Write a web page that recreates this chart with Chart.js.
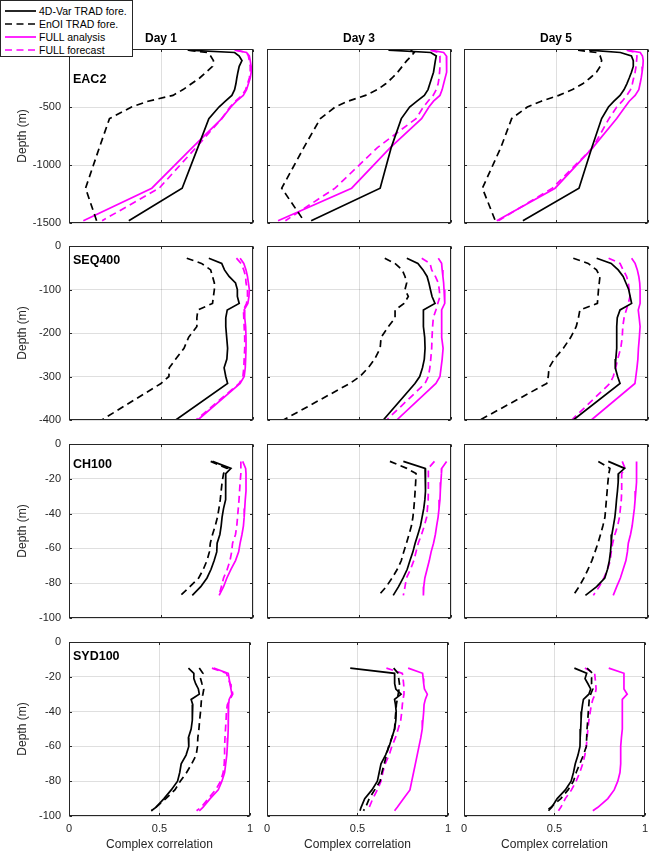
<!DOCTYPE html>
<html>
<head>
<meta charset="utf-8">
<script src="https://cdn.jsdelivr.net/npm/chart.js@4.4.1/dist/chart.umd.min.js"></script>
<style>
  body { margin: 0; background: #fff; width: 650px; height: 852px; position: relative; overflow: hidden;
         font-family: "Liberation Sans", Arial, sans-serif; }
  canvas { position: absolute; }
  #legend { position: absolute; left: 0; top: 0; width: 131px; height: 55px; background: #fff;
            border: 1px solid #262626; z-index: 5; }
  .item { position: absolute; left: 0; height: 13px; font-size: 10.5px; color: #000; line-height: 13px; white-space: nowrap; }
  .item svg { position: absolute; left: 4px; top: 3px; }
  .item span { position: absolute; left: 38px; top: 0; }
</style>
</head>
<body>
<div id="legend"></div>
<script>
// labels
const days = ['Day 1', 'Day 3', 'Day 5'];
const stations = ['EAC2', 'SEQ400', 'CH100', 'SYD100'];
const seriesNames = ['4D-Var TRAD fore.', 'EnOI TRAD fore.', 'FULL analysis', 'FULL forecast'];
const xTicks = [0, 0.5, 1];
const yMin = [-1500, -400, -100, -100];
const yStep = [500, 100, 20, 20];

// depth levels (m) of each mooring
const eac2Depth = [-10, -30, -60, -100, -150, -200, -250, -300, -350, -400, -450, -500, -600, -850, -1200, -1480];
const seq400Depth = [-28, -40, -55, -70, -85, -100, -116, -132, -147, -165, -185, -210, -235, -260, -280, -300, -316, -400];
const ch100Depth = [-10, -14, -17, -22, -27, -32, -37, -42, -47, -52, -57, -62, -67, -72, -77, -82, -87];
const syd100Depth = [-15, -18, -21, -24, -27, -30, -33, -36, -40, -45, -50, -55, -60, -65, -70, -75, -80, -85, -90, -95, -97];

// EAC2
const eac2_4dvar_d1 = [0.645, 0.90, 0.925, 0.94, 0.925, 0.918, 0.912, 0.907, 0.90, 0.885, 0.85, 0.815, 0.76, 0.70, 0.615, 0.325];
const eac2_enoi_d1 = [0.65, 0.75, 0.77, 0.785, 0.78, 0.745, 0.71, 0.665, 0.62, 0.565, 0.43, 0.34, 0.22, 0.165, 0.09, 0.15];
const eac2_fa_d1 = [0.90, 0.965, 0.98, 0.985, 0.99, 0.99, 0.985, 0.975, 0.965, 0.947, 0.91, 0.88, 0.83, 0.67, 0.45, 0.078];
const eac2_ff_d1 = [0.91, 0.965, 0.975, 0.98, 0.985, 0.985, 0.98, 0.97, 0.96, 0.94, 0.905, 0.875, 0.83, 0.69, 0.49, 0.18];
const eac2_4dvar_d3 = [0.66, 0.89, 0.92, 0.915, 0.91, 0.905, 0.895, 0.885, 0.875, 0.855, 0.815, 0.775, 0.73, 0.675, 0.615, 0.24];
const eac2_enoi_d3 = [0.78, 0.80, 0.785, 0.76, 0.735, 0.71, 0.68, 0.645, 0.60, 0.535, 0.44, 0.37, 0.29, 0.2, 0.08, 0.2];
const eac2_fa_d3 = [0.89, 0.96, 0.975, 0.977, 0.977, 0.975, 0.968, 0.96, 0.952, 0.94, 0.905, 0.88, 0.84, 0.67, 0.46, 0.06];
const eac2_ff_d3 = [0.89, 0.93, 0.94, 0.94, 0.94, 0.938, 0.935, 0.93, 0.92, 0.903, 0.875, 0.85, 0.81, 0.6, 0.37, 0.1];
const eac2_4dvar_d5 = [0.68, 0.85, 0.91, 0.92, 0.92, 0.91, 0.898, 0.885, 0.87, 0.848, 0.815, 0.785, 0.748, 0.695, 0.625, 0.32];
const eac2_enoi_d5 = [0.62, 0.72, 0.74, 0.748, 0.74, 0.72, 0.685, 0.645, 0.59, 0.515, 0.42, 0.344, 0.259, 0.2, 0.1, 0.17];
const eac2_fa_d5 = [0.885, 0.958, 0.97, 0.974, 0.972, 0.968, 0.963, 0.957, 0.95, 0.93, 0.898, 0.875, 0.83, 0.7, 0.495, 0.178];
const eac2_ff_d5 = [0.885, 0.93, 0.94, 0.938, 0.935, 0.93, 0.922, 0.915, 0.905, 0.885, 0.86, 0.83, 0.788, 0.7, 0.48, 0.187];

// SEQ400
const seq400_4dvar_d1 = [0.76, 0.83, 0.845, 0.87, 0.905, 0.915, 0.915, 0.925, 0.86, 0.852, 0.852, 0.857, 0.862, 0.858, 0.843, 0.852, 0.862, 0.58];
const seq400_enoi_d1 = [0.64, 0.72, 0.77, 0.78, 0.79, 0.79, 0.785, 0.78, 0.70, 0.695, 0.695, 0.65, 0.625, 0.58, 0.545, 0.543, 0.50, 0.178];
const seq400_fa_d1 = [0.93, 0.95, 0.962, 0.97, 0.975, 0.98, 0.978, 0.972, 0.952, 0.955, 0.96, 0.962, 0.962, 0.96, 0.958, 0.952, 0.93, 0.70];
const seq400_ff_d1 = [0.91, 0.935, 0.95, 0.96, 0.962, 0.97, 0.97, 0.965, 0.948, 0.95, 0.952, 0.955, 0.955, 0.952, 0.95, 0.945, 0.925, 0.69];
const seq400_4dvar_d3 = [0.76, 0.82, 0.848, 0.87, 0.88, 0.888, 0.897, 0.913, 0.85, 0.85, 0.85, 0.857, 0.859, 0.855, 0.845, 0.83, 0.804, 0.632];
const seq400_enoi_d3 = [0.64, 0.695, 0.735, 0.75, 0.759, 0.75, 0.768, 0.745, 0.696, 0.696, 0.66, 0.62, 0.615, 0.585, 0.55, 0.505, 0.45, 0.089];
const seq400_fa_d3 = [0.931, 0.949, 0.952, 0.956, 0.96, 0.962, 0.965, 0.967, 0.949, 0.949, 0.949, 0.95, 0.957, 0.952, 0.946, 0.94, 0.918, 0.705];
const seq400_ff_d3 = [0.841, 0.886, 0.895, 0.915, 0.931, 0.936, 0.94, 0.928, 0.918, 0.904, 0.9, 0.897, 0.895, 0.89, 0.885, 0.877, 0.859, 0.65];
const seq400_4dvar_d5 = [0.721, 0.80, 0.838, 0.865, 0.88, 0.895, 0.903, 0.911, 0.848, 0.833, 0.83, 0.83, 0.83, 0.825, 0.822, 0.835, 0.848, 0.594];
const seq400_enoi_d5 = [0.594, 0.675, 0.72, 0.739, 0.735, 0.731, 0.728, 0.725, 0.63, 0.622, 0.61, 0.58, 0.54, 0.49, 0.462, 0.458, 0.45, 0.087];
const seq400_fa_d5 = [0.911, 0.93, 0.942, 0.95, 0.955, 0.957, 0.957, 0.957, 0.947, 0.952, 0.957, 0.953, 0.948, 0.945, 0.94, 0.934, 0.929, 0.692];
const seq400_ff_d5 = [0.786, 0.848, 0.865, 0.884, 0.893, 0.898, 0.902, 0.893, 0.882, 0.87, 0.863, 0.86, 0.852, 0.835, 0.825, 0.811, 0.793, 0.585];

// CH100
const ch100_4dvar_d1 = [0.78, 0.88, 0.852, 0.852, 0.852, 0.85, 0.84, 0.832, 0.827, 0.82, 0.805, 0.803, 0.789, 0.772, 0.75, 0.716, 0.67];
const ch100_enoi_d1 = [0.77, 0.86, 0.84, 0.832, 0.827, 0.822, 0.815, 0.807, 0.795, 0.78, 0.768, 0.763, 0.75, 0.73, 0.705, 0.657, 0.607];
const ch100_fa_d1 = [0.944, 0.96, 0.962, 0.962, 0.962, 0.958, 0.955, 0.952, 0.948, 0.94, 0.93, 0.922, 0.905, 0.88, 0.858, 0.84, 0.816];
const ch100_ff_d1 = [0.934, 0.934, 0.934, 0.93, 0.927, 0.924, 0.92, 0.916, 0.912, 0.905, 0.889, 0.884, 0.875, 0.86, 0.84, 0.828, 0.816];
const ch100_4dvar_d3 = [0.741, 0.859, 0.86, 0.862, 0.862, 0.858, 0.852, 0.843, 0.834, 0.82, 0.805, 0.793, 0.777, 0.762, 0.74, 0.715, 0.686];
const ch100_enoi_d3 = [0.668, 0.76, 0.81, 0.808, 0.805, 0.802, 0.798, 0.793, 0.785, 0.772, 0.758, 0.743, 0.73, 0.708, 0.68, 0.648, 0.607];
const ch100_fa_d3 = [0.976, 0.95, 0.948, 0.945, 0.942, 0.94, 0.935, 0.93, 0.922, 0.915, 0.905, 0.892, 0.882, 0.87, 0.858, 0.852, 0.85];
const ch100_ff_d3 = [0.91, 0.877, 0.877, 0.877, 0.877, 0.876, 0.872, 0.868, 0.855, 0.84, 0.822, 0.81, 0.798, 0.78, 0.758, 0.75, 0.741];
const ch100_4dvar_d5 = [0.784, 0.873, 0.84, 0.838, 0.834, 0.829, 0.825, 0.82, 0.812, 0.804, 0.8, 0.796, 0.79, 0.78, 0.765, 0.721, 0.66];
const ch100_enoi_d5 = [0.73, 0.793, 0.787, 0.782, 0.778, 0.774, 0.77, 0.766, 0.755, 0.742, 0.728, 0.712, 0.695, 0.674, 0.652, 0.625, 0.594];
const ch100_fa_d5 = [0.938, 0.938, 0.938, 0.937, 0.934, 0.93, 0.926, 0.92, 0.914, 0.905, 0.893, 0.888, 0.88, 0.865, 0.85, 0.83, 0.811];
const ch100_ff_d5 = [0.86, 0.875, 0.857, 0.857, 0.857, 0.855, 0.85, 0.845, 0.835, 0.82, 0.808, 0.8, 0.795, 0.78, 0.76, 0.735, 0.703];

// SYD100
const syd100_4dvar_d1 = [0.66, 0.69, 0.69, 0.70, 0.715, 0.72, 0.675, 0.684, 0.683, 0.68, 0.675, 0.66, 0.662, 0.647, 0.62, 0.612, 0.6, 0.565, 0.525, 0.48, 0.455];
const syd100_enoi_d1 = [0.72, 0.74, 0.727, 0.735, 0.745, 0.74, 0.732, 0.73, 0.727, 0.722, 0.718, 0.712, 0.71, 0.703, 0.678, 0.65, 0.615, 0.585, 0.535, 0.48, 0.455];
const syd100_fa_d1 = [0.80, 0.88, 0.885, 0.89, 0.895, 0.9, 0.885, 0.882, 0.88, 0.88, 0.88, 0.878, 0.875, 0.872, 0.866, 0.86, 0.845, 0.825, 0.78, 0.74, 0.72];
const syd100_ff_d1 = [0.79, 0.87, 0.88, 0.89, 0.9, 0.905, 0.89, 0.875, 0.87, 0.868, 0.865, 0.862, 0.86, 0.86, 0.858, 0.852, 0.838, 0.81, 0.77, 0.73, 0.705];
const syd100_4dvar_d3 = [0.46, 0.705, 0.705, 0.706, 0.712, 0.741, 0.705, 0.71, 0.714, 0.712, 0.705, 0.69, 0.675, 0.655, 0.63, 0.62, 0.61, 0.58, 0.54, 0.52, 0.514];
const syd100_enoi_d3 = [0.70, 0.725, 0.728, 0.732, 0.73, 0.725, 0.72, 0.715, 0.712, 0.708, 0.705, 0.69, 0.672, 0.66, 0.648, 0.635, 0.625, 0.595, 0.565, 0.545, 0.533];
const syd100_fa_d3 = [0.78, 0.86, 0.863, 0.866, 0.87, 0.886, 0.875, 0.868, 0.866, 0.862, 0.858, 0.85, 0.84, 0.83, 0.82, 0.81, 0.8, 0.79, 0.755, 0.72, 0.705];
const syd100_ff_d3 = [0.66, 0.748, 0.752, 0.755, 0.757, 0.757, 0.752, 0.748, 0.745, 0.739, 0.725, 0.71, 0.69, 0.675, 0.653, 0.64, 0.63, 0.61, 0.585, 0.565, 0.558];
const syd100_4dvar_d5 = [0.61, 0.678, 0.669, 0.685, 0.70, 0.69, 0.66, 0.655, 0.65, 0.647, 0.645, 0.642, 0.641, 0.63, 0.615, 0.605, 0.592, 0.56, 0.515, 0.485, 0.467];
const syd100_enoi_d5 = [0.68, 0.71, 0.705, 0.705, 0.712, 0.70, 0.692, 0.69, 0.687, 0.684, 0.68, 0.678, 0.676, 0.66, 0.64, 0.62, 0.605, 0.575, 0.535, 0.48, 0.457];
const syd100_fa_d5 = [0.80, 0.884, 0.884, 0.884, 0.884, 0.902, 0.875, 0.875, 0.875, 0.875, 0.875, 0.87, 0.866, 0.866, 0.866, 0.862, 0.85, 0.83, 0.795, 0.74, 0.712];
const syd100_ff_d5 = [0.668, 0.722, 0.725, 0.728, 0.73, 0.725, 0.712, 0.704, 0.698, 0.69, 0.685, 0.68, 0.676, 0.668, 0.656, 0.64, 0.62, 0.594, 0.56, 0.535, 0.522];

// grid of panels: [row][col] -> four series in legend order
const depths = [eac2Depth, seq400Depth, ch100Depth, syd100Depth];
const panels = [
  [[eac2_4dvar_d1, eac2_enoi_d1, eac2_fa_d1, eac2_ff_d1],
   [eac2_4dvar_d3, eac2_enoi_d3, eac2_fa_d3, eac2_ff_d3],
   [eac2_4dvar_d5, eac2_enoi_d5, eac2_fa_d5, eac2_ff_d5]],
  [[seq400_4dvar_d1, seq400_enoi_d1, seq400_fa_d1, seq400_ff_d1],
   [seq400_4dvar_d3, seq400_enoi_d3, seq400_fa_d3, seq400_ff_d3],
   [seq400_4dvar_d5, seq400_enoi_d5, seq400_fa_d5, seq400_ff_d5]],
  [[ch100_4dvar_d1, ch100_enoi_d1, ch100_fa_d1, ch100_ff_d1],
   [ch100_4dvar_d3, ch100_enoi_d3, ch100_fa_d3, ch100_ff_d3],
   [ch100_4dvar_d5, ch100_enoi_d5, ch100_fa_d5, ch100_ff_d5]],
  [[syd100_4dvar_d1, syd100_enoi_d1, syd100_fa_d1, syd100_ff_d1],
   [syd100_4dvar_d3, syd100_enoi_d3, syd100_fa_d3, syd100_ff_d3],
   [syd100_4dvar_d5, syd100_enoi_d5, syd100_fa_d5, syd100_ff_d5]]
];

// styles
const lineColors = ['#000000', '#000000', '#ff00ff', '#ff00ff'];
const lineDashes = [[], [7, 4.5], [], [7, 4.5]];
const FONT = '"Liberation Sans", Arial, sans-serif';
const INK = '#262626';
const GRID = 'rgba(38,38,38,0.15)';

// layout of the axes boxes in the page
const panelLeft = [69, 267, 464];
const panelTop = [49, 246, 444, 642];
const AX_W = 184, AX_H = 174, PAD_L = 69, PAD_T = 30, PAD_R = 6, PAD_B = 36;
const labelDrop = [31, 15, 21, 15]; // station label offset below the top of the box

// box, inward ticks, column titles and station names
const framePlugin = {
  id: 'frame',
  afterDraw(chart, args, opts) {
    const {ctx, chartArea: a, scales} = chart;
    const L = Math.round(a.left) + 0.5, R = Math.round(a.right) - 0.5;
    const T = Math.round(a.top) + 0.5, B = Math.round(a.bottom) - 0.5;
    ctx.save();
    ctx.strokeStyle = INK;
    ctx.lineWidth = 1;
    ctx.beginPath();
    scales.x.ticks.forEach(t => {
      const px = Math.round(scales.x.getPixelForValue(t.value)) + 0.5;
      ctx.moveTo(px, T); ctx.lineTo(px, T + 2.5);
      ctx.moveTo(px, B); ctx.lineTo(px, B - 2.5);
    });
    scales.y.ticks.forEach(t => {
      const py = Math.round(scales.y.getPixelForValue(t.value)) + 0.5;
      ctx.moveTo(L, py); ctx.lineTo(L + 2.5, py);
      ctx.moveTo(R, py); ctx.lineTo(R - 2.5, py);
    });
    ctx.stroke();
    ctx.strokeRect(L, T, R - L, B - T);
    ctx.fillStyle = '#000';
    if (opts.title) {
      ctx.font = 'bold 12px ' + FONT;
      ctx.textAlign = 'center';
      ctx.textBaseline = 'middle';
      ctx.fillText(opts.title, (a.left + a.right) / 2, a.top - 10);
    }
    if (opts.label) {
      ctx.font = 'bold 12.5px ' + FONT;
      ctx.textAlign = 'left';
      ctx.textBaseline = 'middle';
      ctx.fillText(opts.label, a.left + 4, a.top + opts.drop);
    }
    ctx.restore();
  }
};

function makePanel(row, col) {
  const cv = document.createElement('canvas');
  const w = PAD_L + AX_W + PAD_R, h = PAD_T + AX_H + PAD_B;
  cv.width = w; cv.height = h;
  cv.style.left = (panelLeft[col] - PAD_L) + 'px';
  cv.style.top = (panelTop[row] - PAD_T) + 'px';
  cv.style.width = w + 'px'; cv.style.height = h + 'px';
  document.body.appendChild(cv);

  const datasets = panels[row][col].map((vals, k) => ({
    label: seriesNames[k],
    data: vals.map((v, i) => ({x: v, y: depths[row][i]})),
    borderColor: lineColors[k],
    borderDash: lineDashes[k],
    borderWidth: 1.7,
    pointRadius: 0,
    showLine: true,
    fill: false,
    tension: 0
  }));

  new Chart(cv, {
    type: 'scatter',
    data: {datasets: datasets},
    options: {
      responsive: false,
      animation: false,
      events: [],
      layout: {padding: {top: PAD_T, right: PAD_R, left: 0, bottom: 0}},
      plugins: {
        legend: {display: false},
        tooltip: {enabled: false},
        frame: {title: row === 0 ? days[col] : '', label: col === 0 ? stations[row] : '', drop: labelDrop[row]}
      },
      scales: {
        x: {
          type: 'linear', min: 0, max: 1,
          afterFit: s => { s.height = PAD_B; },
          afterBuildTicks: s => { s.ticks = xTicks.map(v => ({value: v})); },
          ticks: {display: row === 3, padding: 6, color: INK, font: {family: FONT, size: 11},
                  callback: v => String(v), maxRotation: 0},
          grid: {color: GRID, drawTicks: false},
          border: {display: false},
          title: {display: row === 3, text: 'Complex correlation', color: INK,
                  font: {family: FONT, size: 12}, padding: {top: 0, bottom: 0}}
        },
        y: {
          type: 'linear', min: yMin[row], max: 0,
          afterFit: s => { s.width = PAD_L; },
          ticks: {display: col === 0, stepSize: yStep[row], padding: 8, color: INK,
                  font: {family: FONT, size: 11}, callback: v => String(v)},
          grid: {color: GRID, drawTicks: false},
          border: {display: false},
          title: {display: col === 0, text: 'Depth (m)', color: INK,
                  font: {family: FONT, size: 12}, padding: {top: 15, bottom: 0}}
        }
      }
    },
    plugins: [framePlugin]
  });
}

for (let r = 0; r < 4; r++) {
  for (let c = 0; c < 3; c++) makePanel(r, c);
}

// legend box in the top left corner
const legendTops = [3.5, 16.5, 29.5, 42.5];
const legend = document.getElementById('legend');
seriesNames.forEach((name, k) => {
  const item = document.createElement('div');
  item.className = 'item';
  item.style.top = legendTops[k] + 'px';
  item.style.width = '131px';
  const dash = lineDashes[k].length ? lineDashes[k].join(' ') : 'none';
  item.innerHTML = '<svg width="32" height="6"><line x1="0" y1="3" x2="31" y2="3" stroke="' + lineColors[k] +
    '" stroke-width="1.7" stroke-dasharray="' + dash + '"/></svg><span>' + name + '</span>';
  legend.appendChild(item);
});
</script>
</body>
</html>
